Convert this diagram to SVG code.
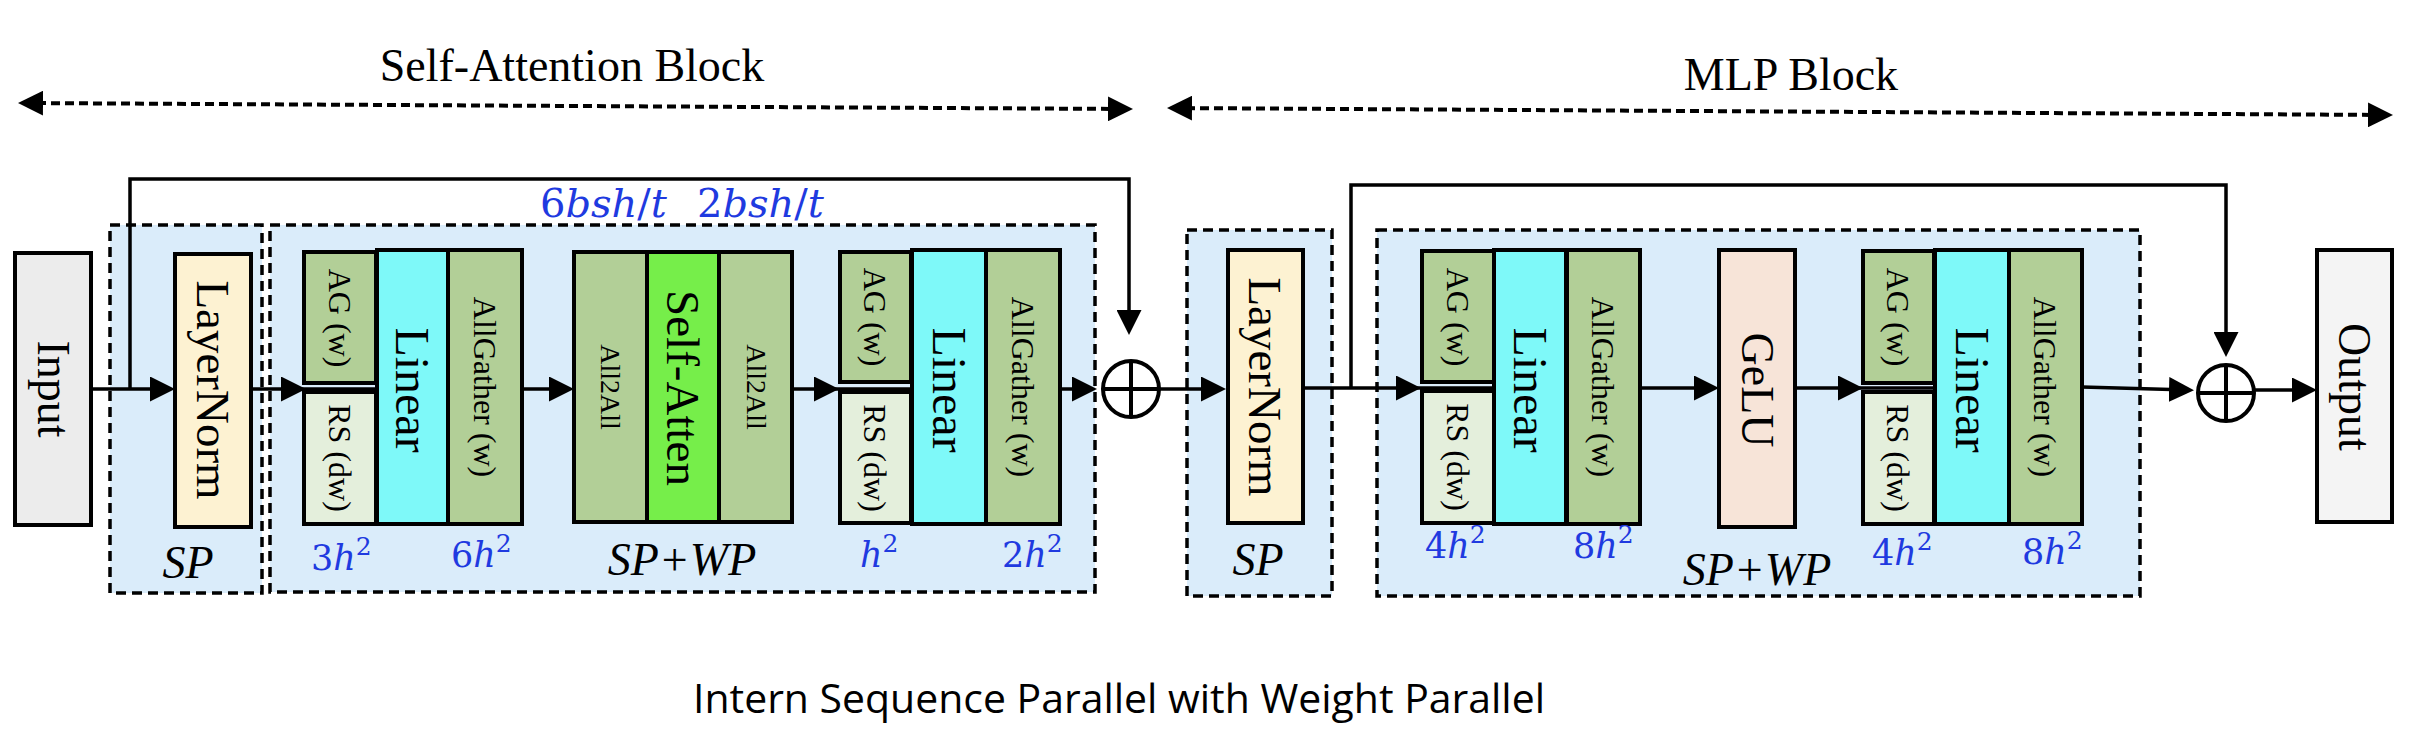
<svg xmlns="http://www.w3.org/2000/svg" width="2424" height="740" viewBox="0 0 2424 740">
<defs>
<marker id="ah" viewBox="0 0 25 25" refX="20" refY="12.5" markerWidth="25" markerHeight="25" markerUnits="userSpaceOnUse" orient="auto-start-reverse"><path d="M0,0 L25,12.5 L0,25 z" fill="#000"/></marker>
</defs>
<style>
.box{stroke:#000;stroke-width:4}
.grp{fill:#daecfa;stroke:#000;stroke-width:3.5;stroke-dasharray:10 6}
.t{font-family:"Liberation Serif","Times New Roman",serif;fill:#000}
.r{text-anchor:middle;dominant-baseline:central}
.blue{font-family:"DejaVu Serif",serif;fill:#1f3ae0}
.conn{stroke:#000;stroke-width:3.5;fill:none}
.dash{stroke:#000;stroke-width:4;fill:none;stroke-dasharray:9 5}
.ag{fill:#b2cf97}
.rs{fill:#e4efdc}
.lin{fill:#7ef9f9}
.ln{fill:#fdf2d2}
</style>
<rect width="2424" height="740" fill="#fff"/>

<g id="headers">
<text class="t" x="572" y="81" font-size="46" text-anchor="middle">Self-Attention Block</text>
<text class="t" x="1791" y="90" font-size="46" text-anchor="middle">MLP Block</text>
</g>

<g id="groups">
<rect id="sp1" class="grp" x="110" y="225" width="152" height="368"/>
<rect id="spwp1" class="grp" x="270" y="225" width="825" height="367"/>
<rect id="sp2" class="grp" x="1187" y="230" width="145" height="366"/>
<rect id="spwp2" class="grp" x="1377" y="230" width="763" height="366"/>
</g>

<g id="input">
<rect class="box" x="15" y="253" width="76" height="272" fill="#ececec"/>
<text class="t r" font-size="46" transform="translate(53,389) rotate(90)">Input</text>
</g>

<g id="layernorm1">
<rect class="box ln" x="175" y="254" width="76" height="273"/>
<text class="t r" font-size="47" transform="translate(213,390) rotate(90)">LayerNorm</text>
</g>

<g id="linear1">
<rect class="box ag" x="304" y="252" width="72" height="131"/>
<rect class="box rs" x="304" y="392" width="72" height="132"/>
<rect class="box lin" x="377" y="250" width="71" height="274"/>
<rect class="box ag" x="448" y="250" width="74" height="274"/>
<text class="t r" font-size="32" transform="translate(340,318) rotate(90)">AG (w)</text>
<text class="t r" font-size="32" transform="translate(340,458) rotate(90)">RS (dw)</text>
<text class="t r" font-size="48" transform="translate(412,390) rotate(90)">Linear</text>
<text class="t r" font-size="32" transform="translate(485,387) rotate(90)">AllGather (w)</text>
</g>

<g id="selfatten">
<rect class="box ag" x="574" y="252" width="73" height="270"/>
<rect class="box" x="647" y="252" width="72" height="270" fill="#76ee4a"/>
<rect class="box ag" x="719" y="252" width="73" height="270"/>
<text class="t r" font-size="28" transform="translate(610,387) rotate(90)">All2All</text>
<text class="t r" font-size="47" transform="translate(683,388) rotate(90)">Self-Atten</text>
<text class="t r" font-size="28" transform="translate(756,387) rotate(90)">All2All</text>
</g>

<g id="linear2">
<rect class="box ag" x="840" y="252" width="71" height="130"/>
<rect class="box rs" x="840" y="392" width="71" height="131"/>
<rect class="box lin" x="912" y="250" width="74" height="274"/>
<rect class="box ag" x="986" y="250" width="74" height="274"/>
<text class="t r" font-size="32" transform="translate(875,317) rotate(90)">AG (w)</text>
<text class="t r" font-size="32" transform="translate(875,458) rotate(90)">RS (dw)</text>
<text class="t r" font-size="48" transform="translate(949,390) rotate(90)">Linear</text>
<text class="t r" font-size="32" transform="translate(1023,387) rotate(90)">AllGather (w)</text>
</g>

<g id="add1">
<circle cx="1131" cy="389" r="28" fill="none" stroke="#000" stroke-width="4"/>
<path d="M1103,389 H1159 M1131,361 V417" stroke="#000" stroke-width="4"/>
</g>

<g id="layernorm2">
<rect class="box ln" x="1228" y="250" width="75" height="273"/>
<text class="t r" font-size="47" transform="translate(1265,387) rotate(90)">LayerNorm</text>
</g>

<g id="linear3">
<rect class="box ag" x="1422" y="251" width="72" height="131"/>
<rect class="box rs" x="1422" y="391" width="72" height="132"/>
<rect class="box lin" x="1494" y="250" width="72" height="274"/>
<rect class="box ag" x="1567" y="250" width="73" height="274"/>
<text class="t r" font-size="32" transform="translate(1458,317) rotate(90)">AG (w)</text>
<text class="t r" font-size="32" transform="translate(1458,457) rotate(90)">RS (dw)</text>
<text class="t r" font-size="48" transform="translate(1530,390) rotate(90)">Linear</text>
<text class="t r" font-size="32" transform="translate(1603,387) rotate(90)">AllGather (w)</text>
</g>

<g id="gelu">
<rect class="box" x="1719" y="250" width="76" height="277" fill="#f7e4d8"/>
<text class="t r" font-size="46" transform="translate(1757,390) rotate(90)">GeLU</text>
</g>

<g id="linear4">
<rect class="box ag" x="1863" y="251" width="71" height="132"/>
<rect class="box rs" x="1863" y="392" width="71" height="132"/>
<rect class="box lin" x="1935" y="250" width="74" height="274"/>
<rect class="box ag" x="2009" y="250" width="73" height="274"/>
<text class="t r" font-size="32" transform="translate(1898,317) rotate(90)">AG (w)</text>
<text class="t r" font-size="32" transform="translate(1898,458) rotate(90)">RS (dw)</text>
<text class="t r" font-size="48" transform="translate(1972,390) rotate(90)">Linear</text>
<text class="t r" font-size="32" transform="translate(2045,387) rotate(90)">AllGather (w)</text>
</g>

<g id="add2">
<circle cx="2226" cy="393" r="28" fill="none" stroke="#000" stroke-width="4"/>
<path d="M2198,393 H2254 M2226,365 V421" stroke="#000" stroke-width="4"/>
</g>

<g id="output">
<rect class="box" x="2317" y="250" width="75" height="272" fill="#f4f4f4"/>
<text class="t r" font-size="46" transform="translate(2354,387) rotate(90)">Output</text>
</g>

<g id="labels">
<text class="t" x="188" y="578" font-size="46" font-style="italic" text-anchor="middle">SP</text>
<text class="t" x="682" y="575" font-size="46" font-style="italic" text-anchor="middle">SP+WP</text>
<text class="t" x="1258" y="575" font-size="46" font-style="italic" text-anchor="middle">SP</text>
<text class="t" x="1757" y="585" font-size="46" font-style="italic" text-anchor="middle">SP+WP</text>
<text class="blue" x="540" y="217" font-size="40">6<tspan font-style="italic">bsh</tspan>/<tspan font-style="italic">t</tspan></text>
<text class="blue" x="697" y="217" font-size="40">2<tspan font-style="italic">bsh</tspan>/<tspan font-style="italic">t</tspan></text>
<text class="blue" x="311" y="570" font-size="35">3<tspan font-style="italic">h</tspan><tspan font-size="25" dy="-15">2</tspan></text>
<text class="blue" x="451" y="567" font-size="35">6<tspan font-style="italic">h</tspan><tspan font-size="25" dy="-15">2</tspan></text>
<text class="blue" x="860" y="567" font-size="35"><tspan font-style="italic">h</tspan><tspan font-size="25" dy="-15">2</tspan></text>
<text class="blue" x="1002" y="567" font-size="35">2<tspan font-style="italic">h</tspan><tspan font-size="25" dy="-15">2</tspan></text>
<text class="blue" x="1425" y="558" font-size="35">4<tspan font-style="italic">h</tspan><tspan font-size="25" dy="-15">2</tspan></text>
<text class="blue" x="1573" y="558" font-size="35">8<tspan font-style="italic">h</tspan><tspan font-size="25" dy="-15">2</tspan></text>
<text class="blue" x="1872" y="565" font-size="35">4<tspan font-style="italic">h</tspan><tspan font-size="25" dy="-15">2</tspan></text>
<text class="blue" x="2022" y="564" font-size="35">8<tspan font-style="italic">h</tspan><tspan font-size="25" dy="-15">2</tspan></text>
<text x="693" y="713" font-size="41" font-family="'Open Sans','Noto Sans',sans-serif" fill="#000" textLength="852" lengthAdjust="spacingAndGlyphs">Intern Sequence Parallel with Weight Parallel</text>
</g>

<g id="connectors">
<path class="dash" d="M23,103 L1128,109" marker-start="url(#ah)" marker-end="url(#ah)"/>
<path class="dash" d="M1172,108 L2388,115" marker-start="url(#ah)" marker-end="url(#ah)"/>
<path class="conn" d="M130,389 V179 H1129 V330" marker-end="url(#ah)"/>
<path class="conn" d="M1351,388 V185 H2226 V352" marker-end="url(#ah)"/>
<path class="conn" d="M91,389 H170" marker-end="url(#ah)"/>
<path class="conn" d="M251,389 H301" marker-end="url(#ah)"/>
<path class="conn" d="M301,389 H377"/>
<path class="conn" d="M522,389 H569" marker-end="url(#ah)"/>
<path class="conn" d="M792,389 H834" marker-end="url(#ah)"/>
<path class="conn" d="M834,389 H912"/>
<path class="conn" d="M1060,389 H1092" marker-end="url(#ah)"/>
<path class="conn" d="M1160,389 H1221" marker-end="url(#ah)"/>
<path class="conn" d="M1303,388 H1416" marker-end="url(#ah)"/>
<path class="conn" d="M1416,388 H1494"/>
<path class="conn" d="M1640,388 H1714" marker-end="url(#ah)"/>
<path class="conn" d="M1795,388 H1858" marker-end="url(#ah)"/>
<path class="conn" d="M1858,388 H1935"/>
<path class="conn" d="M2082,387 L2189,390" marker-end="url(#ah)"/>
<path class="conn" d="M2254,390 H2312" marker-end="url(#ah)"/>
</g>
</svg>
